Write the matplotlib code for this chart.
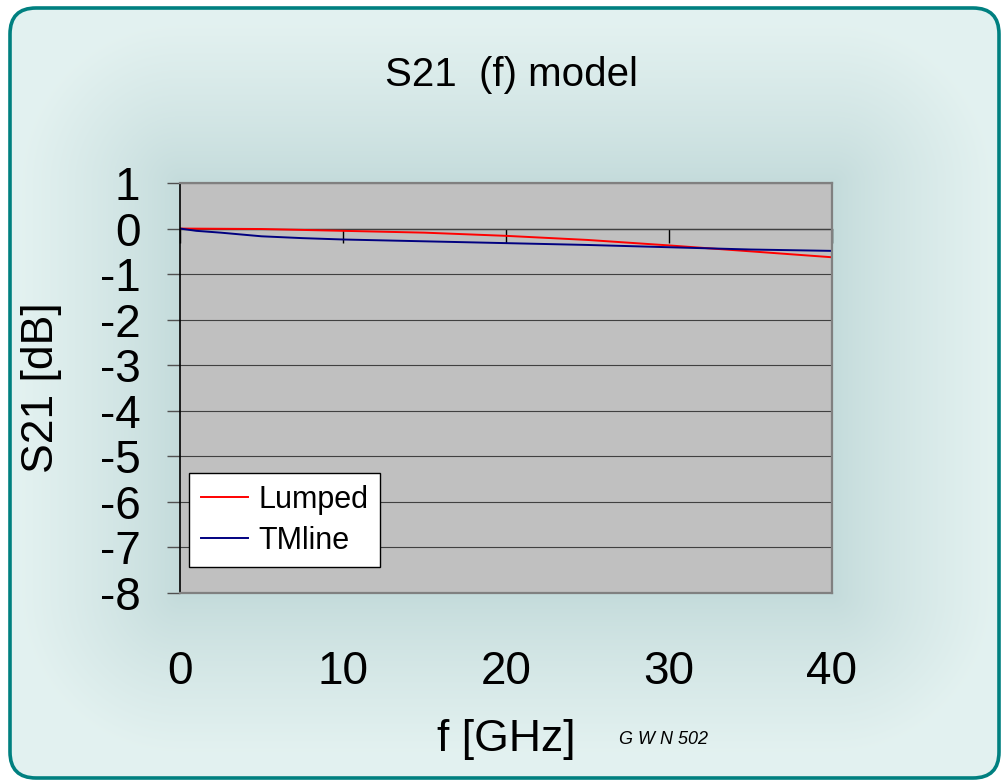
import numpy as np
import matplotlib
matplotlib.use("Agg")
import matplotlib.pyplot as plt
from matplotlib.patches import FancyBboxPatch

# data
freq_lumped = [0, 5, 10, 15, 20, 25, 30, 35, 40]
s21_lumped = [0, -0.01, -0.05, -0.09, -0.16, -0.25, -0.37, -0.50, -0.63]
freq_tmline = [0, 1, 2.5, 5, 7.5, 10, 15, 20, 25, 30, 35, 40]
s21_tmline = [0, -0.05, -0.09, -0.17, -0.21, -0.24, -0.28, -0.32, -0.36, -0.41, -0.46, -0.49]
x_ticks = [0, 10, 20, 30, 40]
y_ticks = [1, 0, -1, -2, -3, -4, -5, -6, -7, -8]

plt.rcParams['font.family'] = ['Liberation Sans', 'DejaVu Sans']

W, H = 1003, 782
fig = plt.figure(figsize=(W / 100, H / 100), dpi=100)
fig.patch.set_facecolor('white')

# plot area in pixels (left, top, right, bottom)
L, T, R, B = 180, 183, 832, 593

# background: light cyan, darker glow around the plot area
bg = fig.add_axes([0, 0, 1, 1], zorder=-5)
bg.set_xlim(0, W)
bg.set_ylim(H, 0)
bg.axis('off')
yy, xx = np.mgrid[0:H, 0:W]
dx = np.maximum(np.maximum(L - xx, xx - R), 0)
dy = np.maximum(np.maximum(T - yy, yy - B), 0)
d = np.sqrt(dx ** 2 + dy ** 2)
t = np.clip(d / 160.0, 0, 1) ** 0.8
dark = np.array([0.765, 0.857, 0.857])
light = np.array([0.89, 0.947, 0.942])
img = dark[None, None, :] + (light - dark)[None, None, :] * t[:, :, None]
im = bg.imshow(img, extent=(0, W, H, 0), interpolation='bilinear')
frame = FancyBboxPatch((10, 8), 989, 770, boxstyle="round,pad=0,rounding_size=26",
                       facecolor='none', edgecolor='#008080', linewidth=2.6,
                       transform=bg.transData)
bg.add_patch(frame)
im.set_clip_path(frame)

ax = fig.add_axes([L / W, 1 - B / H, (R - L) / W, (B - T) / H])
ax.set_facecolor('#c0c0c0')
ax.plot(freq_lumped, s21_lumped, color='#ff0000', lw=1.4, label='Lumped')
ax.plot(freq_tmline, s21_tmline, color='#000080', lw=1.4, label='TMline')
ax.set_xlim(0, 40)
ax.set_ylim(-8, 1)
ax.set_yticks(y_ticks)
ax.set_yticklabels([str(v) for v in y_ticks])
ax.set_xticks(x_ticks)
ax.set_xticklabels([str(v) for v in x_ticks])
ax.tick_params(axis='x', length=0, pad=41, labelsize=33)
ax.tick_params(axis='y', length=9.5, width=1, color='#505050', pad=19, labelsize=33)
ax.grid(axis='y', color='#404040', lw=0.8)
ax.set_axisbelow(True)
for s in ['top', 'right', 'bottom']:
    ax.spines[s].set_color('#808080')
    ax.spines[s].set_linewidth(1.6)
ax.spines['left'].set_color('black')
ax.spines['left'].set_linewidth(1.2)

# x axis crossing at 0 dB
sec = ax.secondary_xaxis(8 / 9)
sec.set_xticks(x_ticks)
sec.tick_params(direction='in', length=10, width=1, color='black',
                labeltop=False, labelbottom=False)
sec.spines['top'].set_color('#404040')
sec.spines['top'].set_linewidth(1.0)
sec.spines['bottom'].set_color('#404040')

leg = ax.legend(loc='lower left', bbox_to_anchor=(0.014, 0.063), fontsize=22,
                frameon=True, fancybox=False, framealpha=1, edgecolor='black',
                handlelength=1.55, handletextpad=0.33, labelspacing=0.35,
                borderpad=0.38, borderaxespad=0)
leg.get_frame().set_linewidth(1.0)

fig.text(512 / W, 1 - 75 / H, 'S21  (f) model', ha='center', va='center', fontsize=29)
fig.text(506 / W, 1 - 740 / H, 'f [GHz]', ha='center', va='center', fontsize=32)
fig.text(42 / W, 1 - 388 / H, 'S21 [dB]', ha='center', va='center', fontsize=32,
         rotation=90)
fig.text(664 / W, 1 - 740 / H, 'G W N 502', ha='center', va='center', fontsize=13,
         style='italic')

fig.savefig('out.png', dpi=100)
